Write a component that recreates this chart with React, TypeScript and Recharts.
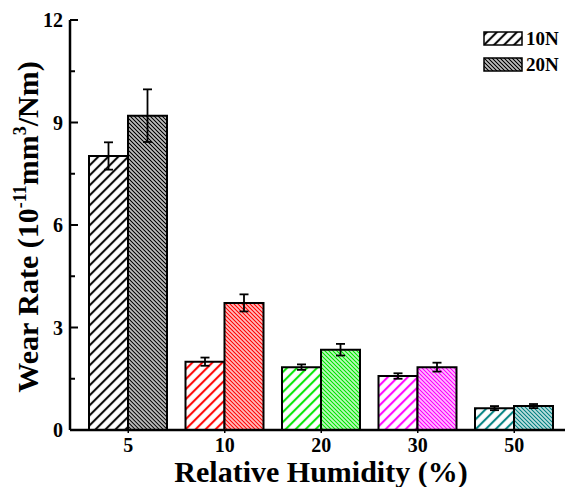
import React from "react";
import {
  BarChart,
  Bar,
  XAxis,
  YAxis,
  ErrorBar,
  Cell,
  Legend,
} from "recharts";

// relative humidity (%) categories
const humidity = ["5", "10", "20", "30", "50"];
// wear rate, 10^-11 mm^3/Nm
const wear10N = [8.02, 2.0, 1.84, 1.58, 0.64];
const wear20N = [9.2, 3.72, 2.35, 1.84, 0.7];
const err10N = [0.4, 0.12, 0.08, 0.08, 0.06];
const err20N = [0.77, 0.25, 0.17, 0.13, 0.06];
const colors = ["#000000", "#ff0000", "#00e600", "#ff00ff", "#008080"];
const yTicks = [0, 1.5, 3, 4.5, 6, 7.5, 9, 10.5, 12];
const topTicks = [1, 2, 3, 4, 5, 6, 7, 8, 9];
const legendRows = [
  { label: "10N", pat: "p10-0" },
  { label: "20N", pat: "p20-0" },
];

const FONT = "'Liberation Serif', 'Times New Roman', serif";

const data = humidity.map((rh, i) => ({
  rh,
  w10: wear10N[i],
  w20: wear20N[i],
  e10: err10N[i],
  e20: err20N[i],
}));

const S = 7.07; // sparse hatch spacing
const D = 2.83; // dense hatch spacing

function Patterns() {
  return (
    <svg width={0} height={0} style={{ position: "absolute" }}>
      <defs>
        {colors.map((c, i) => (
          <React.Fragment key={i}>
            <pattern
              id={`p10-${i}`}
              patternUnits="userSpaceOnUse"
              width={S}
              height={S}
              patternTransform="rotate(45)"
            >
              <rect width={S} height={S} fill="#fff" />
              <line x1={S / 2} y1={0} x2={S / 2} y2={S} stroke={c} strokeWidth={2.1} />
            </pattern>
            <pattern
              id={`p20-${i}`}
              patternUnits="userSpaceOnUse"
              width={D}
              height={D}
              patternTransform="rotate(-45)"
            >
              <rect width={D} height={D} fill="#fff" />
              <line x1={D / 2} y1={0} x2={D / 2} y2={D} stroke={c} strokeWidth={1.45} />
            </pattern>
          </React.Fragment>
        ))}
      </defs>
    </svg>
  );
}

function YTick(props: any) {
  const { x, y, payload } = props;
  const v = payload.value;
  const major = v % 3 === 0;
  const ax = x + 7;
  return (
    <g>
      <line x1={ax} x2={ax + (major ? 8 : 5)} y1={y} y2={y} stroke="#000" strokeWidth={2} />
      {major && (
        <text
          x={x}
          y={y}
          dy="0.35em"
          textAnchor="end"
          fontFamily={FONT}
          fontWeight="bold"
          fontSize={20}
          fill="#000"
        >
          {v}
        </text>
      )}
    </g>
  );
}

function YTitle() {
  return (
    <text
      x={38}
      y={227}
      transform="rotate(-90, 38, 227)"
      textAnchor="middle"
      fontFamily={FONT}
      fontWeight="bold"
      fontSize={30}
      fill="#000"
    >
      Wear Rate (10
      <tspan dy={-12} fontSize={18}>-11</tspan>
      <tspan dy={12}>mm</tspan>
      <tspan dy={-12} fontSize={18}>3</tspan>
      <tspan dy={12}>/Nm)</tspan>
    </text>
  );
}

function XTitle() {
  return (
    <text
      x={321}
      y={482}
      textAnchor="middle"
      fontFamily={FONT}
      fontWeight="bold"
      fontSize={30}
      fill="#000"
    >
      Relative Humidity (%)
    </text>
  );
}

function LegendBox() {
  return (
    <svg width={81} height={45} style={{ overflow: "visible" }}>
      {legendRows.map((r, i) => (
        <g key={r.label}>
          <rect
            x={1}
            y={1 + i * 26}
            width={38}
            height={13}
            fill={`url(#${r.pat})`}
            stroke="#000"
            strokeWidth={1.5}
          />
          <text
            x={43}
            y={14 + i * 26}
            fontFamily={FONT}
            fontWeight="bold"
            fontSize={19}
            fill="#000"
          >
            {r.label}
          </text>
        </g>
      ))}
    </svg>
  );
}

export default function App() {
  return (
    <div
      style={{
        position: "absolute",
        left: 0,
        top: 0,
        width: 565,
        height: 487,
        overflow: "hidden",
        background: "#fff",
      }}
    >
      <Patterns />
      <BarChart
        width={580}
        height={487}
        data={data}
        margin={{ top: 20, right: 7.5, left: 0, bottom: 0 }}
        barSize={39}
        barGap={0}
      >
        <XAxis
          dataKey="rh"
          height={57}
          padding={{ left: 10, right: 10 }}
          tickSize={3}
          tickMargin={5}
          axisLine={{ stroke: "#000", strokeWidth: 2.5 }}
          tickLine={{ stroke: "#000", strokeWidth: 1.5 }}
          tick={{ fill: "#000", fontFamily: FONT, fontWeight: "bold", fontSize: 20 }}
          label={{ content: XTitle }}
        />
        <XAxis
          xAxisId="top"
          orientation="top"
          type="number"
          domain={[0, 10]}
          allowDataOverflow
          ticks={topTicks}
          height={0}
          mirror
          tick={false}
          tickSize={3}
          axisLine={{ stroke: "#000", strokeWidth: 2.5 }}
          tickLine={{ stroke: "#000", strokeWidth: 1.2 }}
        />
        <YAxis
          width={70}
          domain={[0, 12]}
          ticks={yTicks}
          interval={0}
          tickLine={false}
          tickSize={0}
          tickMargin={7}
          axisLine={{ stroke: "#000", strokeWidth: 2.5 }}
          tick={YTick}
          label={{ content: YTitle }}
        />
        <Legend
          layout="horizontal"
          verticalAlign="middle"
          align="center"
          content={LegendBox}
          wrapperStyle={{ position: "absolute", left: 483, top: 31, width: 81 }}
        />
        <Bar dataKey="w10" stroke="#000" strokeWidth={2} isAnimationActive={false}>
          {data.map((_, i) => (
            <Cell key={i} fill={`url(#p10-${i})`} />
          ))}
          <ErrorBar dataKey="e10" width={4.5} stroke="#000" strokeWidth={1.8} />
        </Bar>
        <Bar dataKey="w20" stroke="#000" strokeWidth={2} isAnimationActive={false}>
          {data.map((_, i) => (
            <Cell key={i} fill={`url(#p20-${i})`} />
          ))}
          <ErrorBar dataKey="e20" width={4.5} stroke="#000" strokeWidth={1.8} />
        </Bar>
      </BarChart>
    </div>
  );
}
